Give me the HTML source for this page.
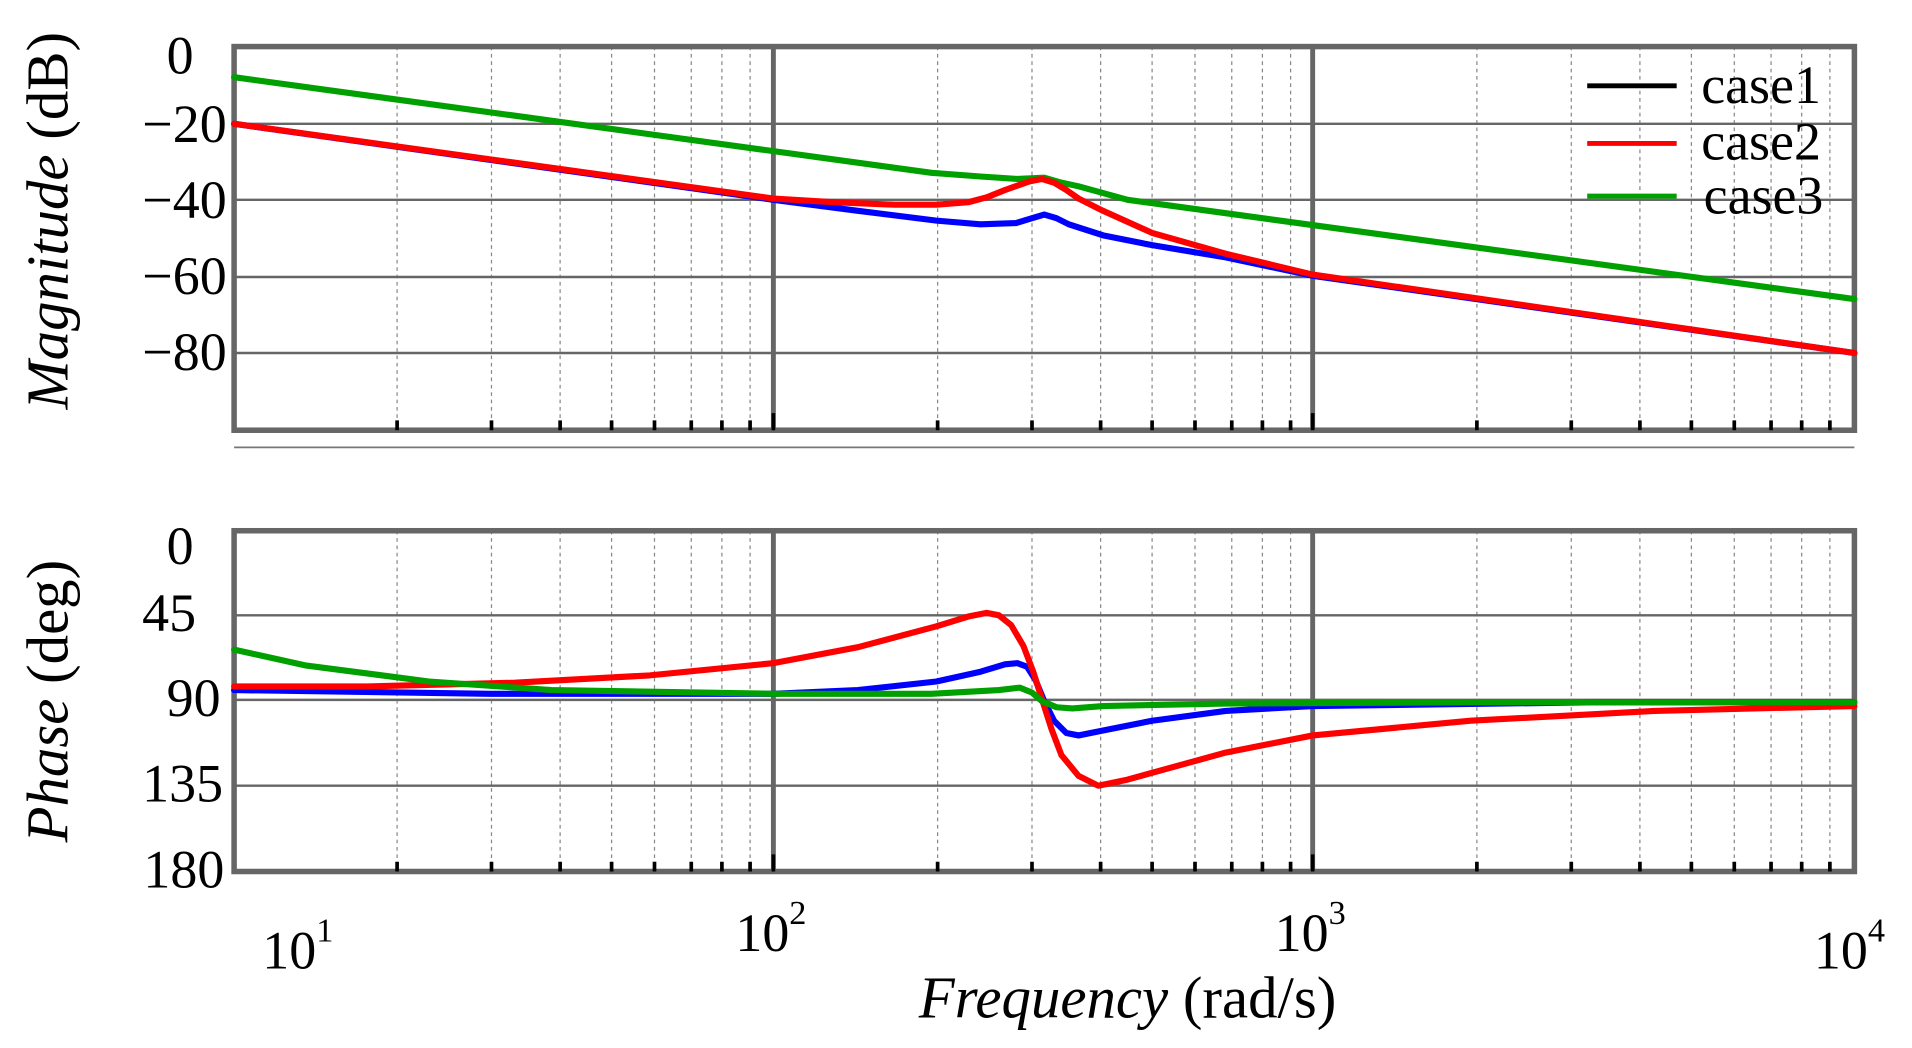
<!DOCTYPE html>
<html><head><meta charset="utf-8"><style>
html,body{margin:0;padding:0;background:#fff;}
svg{display:block;}
text{font-family:"Liberation Serif",serif;fill:#000;}
</style></head><body>
<svg width="1912" height="1048" viewBox="0 0 1560 855" preserveAspectRatio="none" xmlns="http://www.w3.org/2000/svg">
<rect width="1560" height="855" fill="#fff"/>
<g stroke="#888" stroke-width="1" stroke-dasharray="3,3">
<path d="M324 38V351M401 38V351M457 38V351M499 38V351M534 38V351M564 38V351M589 38V351M612 38V351M765 38V351M842 38V351M898 38V351M940 38V351M975 38V351M1005 38V351M1030 38V351M1053 38V351M1205 38V351M1282 38V351M1338 38V351M1380 38V351M1415 38V351M1445 38V351M1470 38V351M1493 38V351"/>
<path d="M324 433V711M401 433V711M457 433V711M499 433V711M534 433V711M564 433V711M589 433V711M612 433V711M765 433V711M842 433V711M898 433V711M940 433V711M975 433V711M1005 433V711M1030 433V711M1053 433V711M1205 433V711M1282 433V711M1338 433V711M1380 433V711M1415 433V711M1445 433V711M1470 433V711M1493 433V711"/>
</g>
<g stroke="#666" stroke-width="2">
<path d="M191 101H1513M191 163H1513M191 226H1513M191 288H1513"/>
<path d="M191 502H1513M191 571H1513M191 641H1513"/>
<path d="M191 365H1513" stroke="#777" stroke-width="1.5"/>
</g>
<g stroke="#666" stroke-width="4">
<path d="M631 38V351M1071 38V351M631 433V711M1071 433V711"/>
</g>
<rect x="191" y="38" width="1322" height="313" fill="none" stroke="#666" stroke-width="4.5"/>
<rect x="191" y="433" width="1322" height="278" fill="none" stroke="#666" stroke-width="4.5"/>
<g stroke="#000" stroke-width="3">
<path d="M324 343V351M401 343V351M457 343V351M499 343V351M534 343V351M564 343V351M589 343V351M612 343V351M765 343V351M842 343V351M898 343V351M940 343V351M975 343V351M1005 343V351M1030 343V351M1053 343V351M1205 343V351M1282 343V351M1338 343V351M1380 343V351M1415 343V351M1445 343V351M1470 343V351M1493 343V351M631 337V351M1071 337V351"/>
<path d="M324 703V711M401 703V711M457 703V711M499 703V711M534 703V711M564 703V711M589 703V711M612 703V711M765 703V711M842 703V711M898 703V711M940 703V711M975 703V711M1005 703V711M1030 703V711M1053 703V711M1205 703V711M1282 703V711M1338 703V711M1380 703V711M1415 703V711M1445 703V711M1470 703V711M1493 703V711M631 697V711M1071 697V711"/>
</g>
<g fill="none" stroke-width="5" stroke-linejoin="round" stroke-linecap="round">
<polyline stroke="#00a000" points="191,63 760,141 800,144 830,146 852,145 866,149 880,152 920,163 1513,244"/>
<polyline stroke="#0000ff" points="191,101 631,163 700,172 764,180 800,183 829,182 842,178 852,175 862,178 872,183 900,192 940,200 1000,210 1071,225 1513,288"/>
<polyline stroke="#ff0000" points="191,101 631,162 680,165 730,167 764,167 790,165 805,161 820,155 840,148 850,146 860,149 870,155 880,162 900,172 940,190 1000,207 1071,224 1513,288"/>
</g>
<g fill="none" stroke-width="5" stroke-linejoin="round" stroke-linecap="round">
<polyline stroke="#0000ff" points="191,563 400,566 631,566 700,563 764,556 800,548 820,542 830,541 838,544 845,555 852,572 860,588 870,598 880,600 900,596 940,588 1000,580 1071,576 1300,573 1513,573"/>
<polyline stroke="#ff0000" points="191,560 300,560 420,557 530,551 631,541 700,528 764,511 790,503 805,500 815,502 825,510 835,527 843,548 850,570 858,595 866,616 880,633 896,641 920,636 960,625 1000,614 1071,600 1200,588 1350,580 1513,576"/>
<polyline stroke="#00a000" points="191,530 250,543 350,556 450,563 631,566 760,566 815,563 832,561 842,565 850,572 862,577 875,578 900,576 1000,574 1200,573 1513,573"/>
</g>
<g stroke-width="4">
<line x1="1295" y1="70" x2="1368" y2="70" stroke="#000"/>
<line x1="1295" y1="117" x2="1368" y2="117" stroke="#ff0000"/>
<line x1="1295" y1="160" x2="1368" y2="160" stroke="#00a000"/>
</g>
<g font-size="44">
<text x="1388" y="84">case1</text>
<text x="1388" y="130">case2</text>
<text x="1390" y="174">case3</text>
</g>
<g font-size="44" text-anchor="end">
<text x="158" y="60">0</text>
<text x="185" y="116">−20</text>
<text x="185" y="178">−40</text>
<text x="185" y="240">−60</text>
<text x="185" y="302">−80</text>
<text x="158" y="460">0</text>
<text x="160" y="515">45</text>
<text x="180" y="584">90</text>
<text x="182" y="654">135</text>
<text x="183" y="724">180</text>
</g>
<g font-size="44">
<text x="214" y="790">10<tspan font-size="28" dy="-22">1</tspan></text>
<text x="600" y="776">10<tspan font-size="28" dy="-22">2</tspan></text>
<text x="1040" y="776">10<tspan font-size="28" dy="-22">3</tspan></text>
<text x="1480" y="790">10<tspan font-size="28" dy="-22">4</tspan></text>
</g>
<text x="920" y="830" font-size="48" text-anchor="middle"><tspan font-style="italic">Frequency</tspan> (rad/s)</text>
<text transform="translate(55,180) rotate(-90)" font-size="48" text-anchor="middle"><tspan font-style="italic">Magnitude</tspan> (dB)</text>
<text transform="translate(55,572) rotate(-90)" font-size="48" text-anchor="middle"><tspan font-style="italic">Phase</tspan> (deg)</text>
</svg>
</body></html>
